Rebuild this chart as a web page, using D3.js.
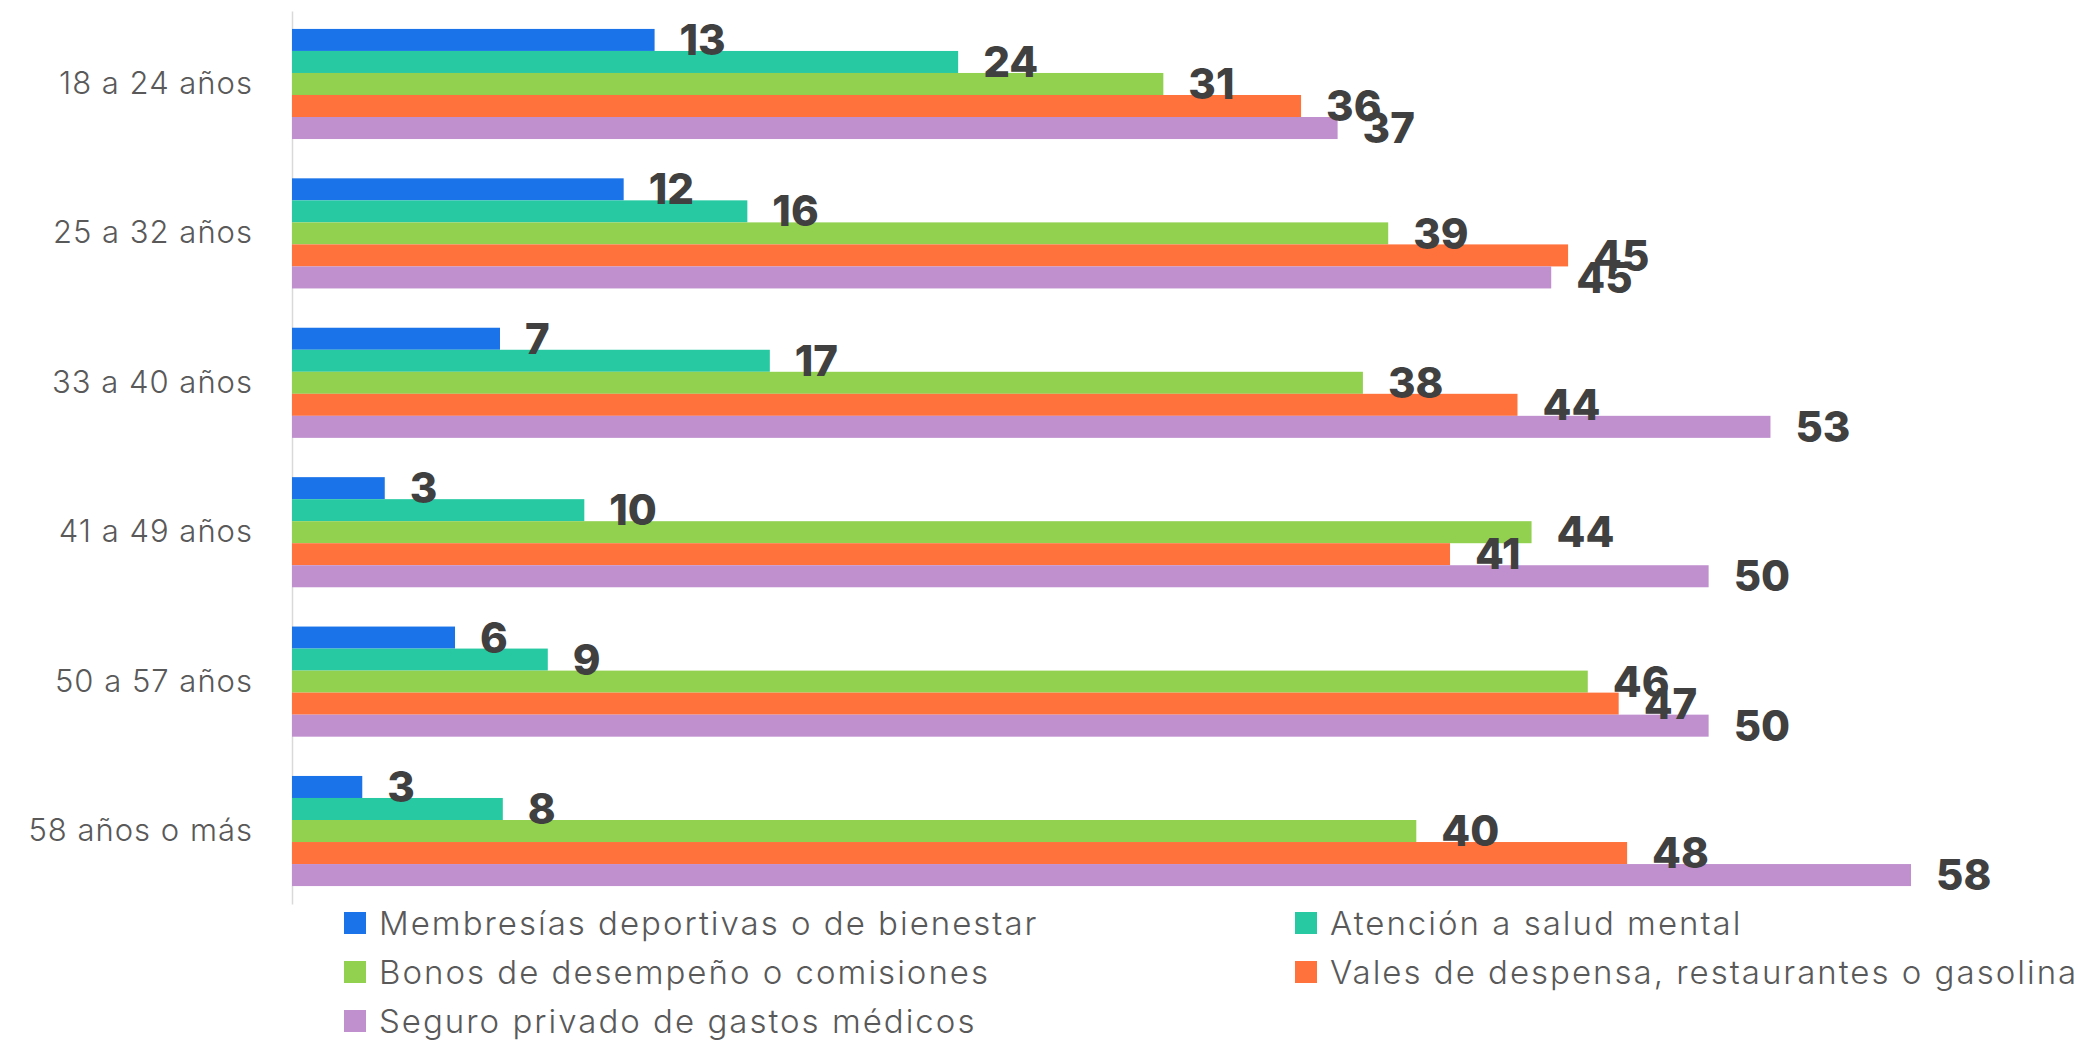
<!DOCTYPE html>
<html>
<head>
<meta charset="utf-8">
<script src="https://cdn.jsdelivr.net/npm/d3@7"></script>
<style>
  body { margin: 0; background: #fff; }
  svg { display: block; font-family: Inter, "Open Sans", sans-serif; }
</style>
</head>
<body>
<svg id="chart" width="2091" height="1040"></svg>
<script>
// ====================================================================
// data
var categories = ["18 a 24 años", "25 a 32 años", "33 a 40 años", "41 a 49 años", "50 a 57 años", "58 años o más"];
var series_names = [
  "Membresías deportivas o de bienestar",
  "Atención a salud mental",
  "Bonos de desempeño o comisiones",
  "Vales de despensa, restaurantes o gasolina",
  "Seguro privado de gastos médicos"
];
var series_colors = ["#1a73e8", "#26c9a2", "#92d050", "#ff723c", "#bf8fce"];

// one array per series, in category order (labels are rounded)
var membresias = [12.9, 11.8, 7.4, 3.3, 5.8, 2.5];
var salud_mental = [23.7, 16.2, 17.0, 10.4, 9.1, 7.5];
var bonos = [31.0, 39.0, 38.1, 44.1, 46.1, 40.0];
var vales = [35.9, 45.4, 43.6, 41.2, 47.2, 47.5];
var seguro = [37.2, 44.8, 52.6, 50.4, 50.4, 57.6];
var series_values = [membresias, salud_mental, bonos, vales, seguro];
// ====================================================================

var label_color = "#404040";
var tick_color = "#595959";

var svg = d3.select("#chart");

var plot_data = [];
categories.forEach(function(c, i) {
  series_names.forEach(function(s, j) {
    plot_data.push({cat: c, series: s, idx: j, value: series_values[j][i]});
  });
});

var x = d3.scaleLinear().domain([0, 57.6]).range([292, 1911]);

var y = d3.scaleBand()
  .domain(categories)
  .range([11, 904])
  .paddingInner(0.263)
  .paddingOuter(0.12);

var y_inner = d3.scaleBand()
  .domain(series_names)
  .range([0, y.bandwidth()]);

function bar_top(d) { return y(d.cat) + y_inner(d.series); }

// y axis
var y_axis_group = svg.append("g")
  .attr("transform", "translate(" + x(0) + ",0)")
  .call(d3.axisLeft(y).tickSize(0).tickPadding(39).tickSizeOuter(0));

y_axis_group.select(".domain").attr("stroke", "#d9d9d9").attr("stroke-width", 1.5);
y_axis_group.selectAll("text")
  .style("font-family", "Inter, sans-serif")
  .style("font-weight", 300)
  .style("font-size", "31px")
  .style("letter-spacing", "1px")
  .style("fill", tick_color);

// bars
svg.append("g").attr("id", "bars")
  .selectAll("rect")
  .data(plot_data)
  .enter()
  .append("rect")
  .attr("x", x(0))
  .attr("y", bar_top)
  .attr("width", function(d) { return x(d.value) - x(0); })
  .attr("height", y_inner.bandwidth())
  .style("fill", function(d) { return series_colors[d.idx]; });

// value labels on top of all bars
svg.append("g").attr("id", "labels")
  .selectAll("text")
  .data(plot_data)
  .enter()
  .append("text")
  .attr("x", function(d) { return x(d.value) + 25; })
  .attr("y", function(d) { return bar_top(d) + y_inner.bandwidth() / 2; })
  .attr("dy", "0.36em")
  .style("font-family", "Inter, sans-serif")
  .style("font-weight", 800)
  .style("font-size", "42px")
  .style("fill", label_color)
  .text(function(d) { return Math.round(d.value); });

// legend
var legend_cols = [344, 1295];
var legend_rows = [923, 972, 1021];
var legend = svg.append("g").selectAll("g")
  .data(series_names)
  .enter()
  .append("g")
  .attr("transform", function(d, i) {
    return "translate(" + legend_cols[i % 2] + "," + legend_rows[Math.floor(i / 2)] + ")";
  });

legend.append("rect")
  .attr("x", 0)
  .attr("y", -11)
  .attr("width", 22)
  .attr("height", 22)
  .style("fill", function(d, i) { return series_colors[i]; });

legend.append("text")
  .attr("x", 35)
  .attr("y", 0)
  .attr("dy", "0.36em")
  .style("font-family", "Inter, sans-serif")
  .style("font-weight", 300)
  .style("font-size", "33px")
  .style("letter-spacing", "2px")
  .style("fill", tick_color)
  .text(function(d) { return d; });
</script>
</body>
</html>
